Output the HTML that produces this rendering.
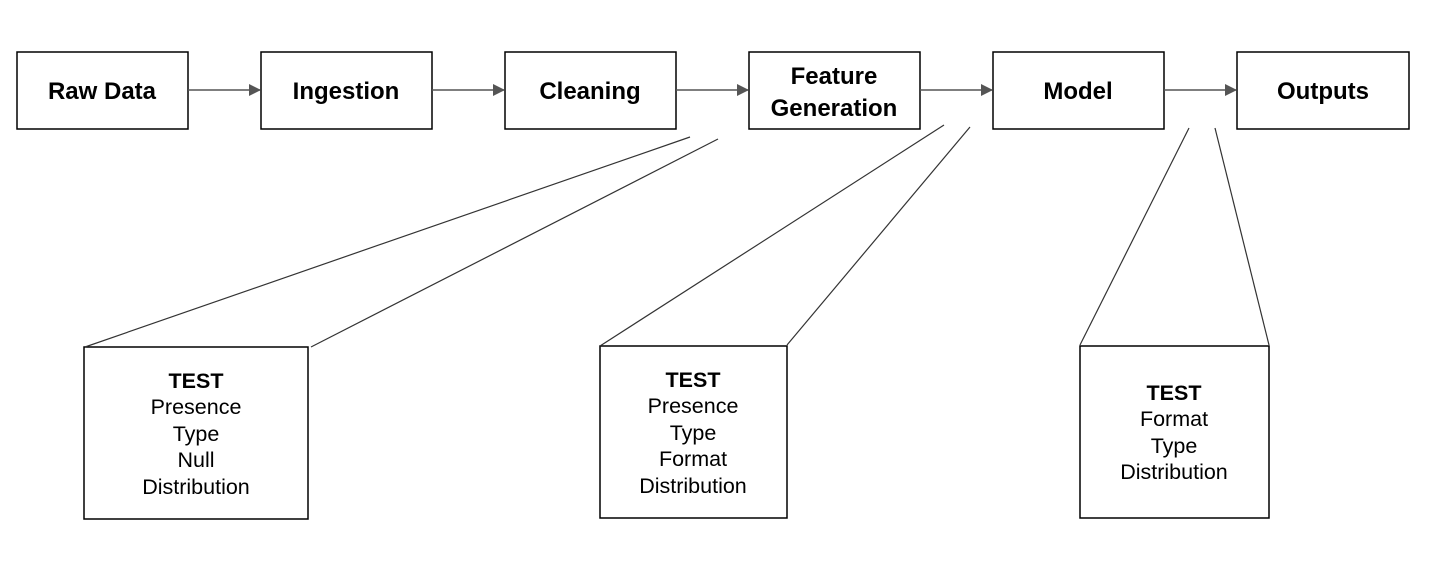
<!DOCTYPE html>
<html><head><meta charset="utf-8"><style>html,body{margin:0;padding:0;background:#fff}svg{display:block}</style></head>
<body>
<svg width="1440" height="567" viewBox="0 0 1440 567" xmlns="http://www.w3.org/2000/svg" font-family="Liberation Sans, Arial, sans-serif">
<defs><marker id="a" markerWidth="12" markerHeight="12" refX="11" refY="6" orient="auto" markerUnits="userSpaceOnUse"><path d="M0,0 L12,6 L0,12 z" fill="#555"/></marker></defs>
<g fill="#fff" stroke="#000" stroke-width="1.5">
<rect x="17" y="52" width="171" height="77"/>
<rect x="261" y="52" width="171" height="77"/>
<rect x="505" y="52" width="171" height="77"/>
<rect x="749" y="52" width="171" height="77"/>
<rect x="993" y="52" width="171" height="77"/>
<rect x="1237" y="52" width="172" height="77"/>
<rect x="84" y="347" width="224" height="172"/>
<rect x="600" y="346" width="187" height="172"/>
<rect x="1080" y="346" width="189" height="172"/>
</g>
<g stroke="#555" stroke-width="1.5" marker-end="url(#a)">
<line x1="188" y1="90" x2="260" y2="90"/>
<line x1="432" y1="90" x2="504" y2="90"/>
<line x1="676" y1="90" x2="748" y2="90"/>
<line x1="920" y1="90" x2="992" y2="90"/>
<line x1="1164" y1="90" x2="1236" y2="90"/>
</g>
<g stroke="#333" stroke-width="1.2">
<line x1="85" y1="347" x2="690" y2="137"/>
<line x1="311" y1="347" x2="718" y2="139"/>
<line x1="600" y1="346" x2="944" y2="125"/>
<line x1="787" y1="345" x2="970" y2="127"/>
<line x1="1080" y1="345" x2="1189" y2="128"/>
<line x1="1269" y1="345" x2="1215" y2="128"/>
</g>
<g font-weight="bold" font-size="24" text-anchor="middle" fill="#000">
<text x="102" y="99">Raw Data</text>
<text x="346" y="99">Ingestion</text>
<text x="590" y="99">Cleaning</text>
<text x="834" y="84">Feature</text>
<text x="834" y="116">Generation</text>
<text x="1078" y="99">Model</text>
<text x="1323" y="99">Outputs</text>
</g>
<g font-size="21.5" text-anchor="middle" fill="#000">
<text x="196" y="388" font-weight="bold">TEST</text>
<text x="196" y="414">Presence</text>
<text x="196" y="441">Type</text>
<text x="196" y="467">Null</text>
<text x="196" y="494">Distribution</text>
<text x="693" y="387" font-weight="bold">TEST</text>
<text x="693" y="413">Presence</text>
<text x="693" y="440">Type</text>
<text x="693" y="466">Format</text>
<text x="693" y="493">Distribution</text>
<text x="1174" y="400" font-weight="bold">TEST</text>
<text x="1174" y="426">Format</text>
<text x="1174" y="453">Type</text>
<text x="1174" y="479">Distribution</text>
</g>
</svg>
</body></html>
